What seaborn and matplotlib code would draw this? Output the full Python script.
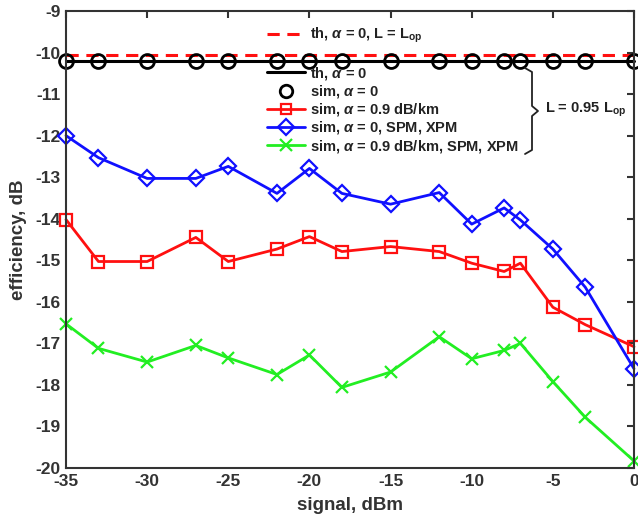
import numpy as np
import pandas as pd
import seaborn as sns
import matplotlib
matplotlib.use("Agg")
import matplotlib.pyplot as plt
from matplotlib.lines import Line2D

# ---- data ----
signal = [-35, -33, -30, -27, -25, -22, -20, -18, -15, -12, -10, -8, -7, -5, -3, 0]
th_Lop_value = -10.05          # th, alpha = 0, L = L_op
th_value = -10.2               # th, alpha = 0 (L = 0.95 L_op)
sim_a0 = [-10.2] * 16
sim_a09 = [-14.02, -15.03, -15.03, -14.45, -15.03, -14.73, -14.43, -14.79,
           -14.67, -14.79, -15.07, -15.27, -15.07, -16.13, -16.55, -17.08]
sim_a0_nl = [-12.0, -12.53, -13.03, -13.03, -12.74, -13.39, -12.79, -13.39,
             -13.65, -13.37, -14.13, -13.74, -14.03, -14.73, -15.65, -17.61]
sim_a09_nl = [-16.53, -17.12, -17.45, -17.05, -17.35, -17.75, -17.28, -18.06,
              -17.69, -16.84, -17.37, -17.17, -17.0, -17.92, -18.78, -19.83]
xticks = [-35, -30, -25, -20, -15, -10, -5, 0]
yticks = list(range(-20, -8))

lbl_th_lop = r"th, $\alpha$ = 0, L = L$_{\mathrm{op}}$"
lbl_th = r"th, $\alpha$ = 0"
lbl_sim0 = r"sim, $\alpha$ = 0"
lbl_sim09 = r"sim, $\alpha$ = 0.9 dB/km"
lbl_sim0nl = r"sim, $\alpha$ = 0, SPM, XPM"
lbl_sim09nl = r"sim, $\alpha$ = 0.9 dB/km, SPM, XPM"
brace_label = r"L = 0.95 L$_{\mathrm{op}}$"

RED, BLUE, GREEN = "#ff1010", "#1010ff", "#22ee22"

sns.set_theme(style="white")
plt.rcParams["font.family"] = ["Liberation Sans", "DejaVu Sans"]
plt.rcParams["font.weight"] = "bold"
plt.rcParams["axes.unicode_minus"] = False
plt.rcParams["mathtext.fontset"] = "custom"
plt.rcParams["mathtext.rm"] = "Liberation Sans:bold"
plt.rcParams["mathtext.it"] = "Liberation Sans:italic:bold"
plt.rcParams["mathtext.bf"] = "Liberation Sans:bold"

W, H = 638, 531
fig = plt.figure(figsize=(W / 100, H / 100), dpi=100)
ax = fig.add_axes([66 / W, 1 - 468 / H, (634 - 66) / W, (468 - 11) / H])

ends = [signal[0], signal[-1]]
sns.lineplot(x=ends, y=[th_Lop_value] * 2, ax=ax, color=RED, lw=2.2,
             linestyle=(0, (4, 2.5)))
sns.lineplot(x=ends, y=[th_value] * 2, ax=ax, color="black", lw=2.2)
ax.plot(signal, sim_a0, linestyle="none", marker="o", ms=10, mfc="none",
        mec="black", mew=2)
sns.lineplot(x=signal, y=sim_a09, ax=ax, color=RED, lw=2, marker="s",
             markersize=8, markerfacecolor="none", markeredgecolor=RED,
             markeredgewidth=1.6)
sns.lineplot(x=signal, y=sim_a0_nl, ax=ax, color=BLUE, lw=2, marker="D",
             markersize=8.5, markerfacecolor="none", markeredgecolor=BLUE,
             markeredgewidth=1.6)
sns.lineplot(x=signal, y=sim_a09_nl, ax=ax, color=GREEN, lw=2, marker="x",
             markersize=9, markeredgecolor=GREEN, markeredgewidth=1.6)
for ln in ax.get_lines():
    ln.set_clip_on(False)

ax.set_xlim(-35, 0)
ax.set_ylim(-20, -9)
ax.set_xticks(xticks)
ax.set_yticks(yticks)
ax.tick_params(direction="in", length=5, width=1.5, top=True, right=True,
               labelsize=12.5, colors="#333333", labelcolor="#333333", pad=4)
for lab in ax.get_xticklabels() + ax.get_yticklabels():
    lab.set_fontweight("bold")
for s in ax.spines.values():
    s.set_color("#333333")
    s.set_linewidth(1.5)
ax.set_xlabel("signal, dBm", fontsize=13.5, fontweight="bold", color="#333333", labelpad=6)
ax.set_ylabel("efficiency, dB", fontsize=13.5, fontweight="bold", color="#333333", labelpad=6)

# legend 1
h1 = [Line2D([], [], color=RED, lw=2.2, linestyle=(0, (4, 2.5)))]
leg1 = fig.legend(h1, [lbl_th_lop], loc="upper left",
                  bbox_to_anchor=(267 / W, 1 - 26 / H), frameon=False,
                  fontsize=10.5, handlelength=2.6, handletextpad=0.35,
                  borderpad=0, borderaxespad=0)
# legend 2
h2 = [Line2D([], [], color="black", lw=2.2),
      Line2D([], [], linestyle="none", marker="o", ms=9, mfc="none", mec="black", mew=2),
      Line2D([], [], color=RED, lw=2, marker="s", ms=7.5, mfc="none", mec=RED, mew=1.6),
      Line2D([], [], color=BLUE, lw=2, marker="D", ms=8, mfc="none", mec=BLUE, mew=1.6),
      Line2D([], [], color=GREEN, lw=2, marker="x", ms=8, mec=GREEN, mew=1.6)]
leg2 = fig.legend(h2, [lbl_th, lbl_sim0, lbl_sim09, lbl_sim0nl, lbl_sim09nl],
                  loc="upper left", bbox_to_anchor=(267 / W, 1 - 65 / H),
                  frameon=False, fontsize=10.5, handlelength=2.6,
                  handletextpad=0.35, labelspacing=0.08, borderpad=0,
                  borderaxespad=0)
for lg in (leg1, leg2):
    for t in lg.get_texts():
        t.set_fontweight("bold")
        t.set_color("#222222")

# brace
def fp(x, y):
    return (x / W, 1 - y / H)
bx = [525, 532, 532, 538, 532, 532, 525]
by = [68, 72, 106, 111, 116, 150, 154]
pts = [fp(a, b) for a, b in zip(bx, by)]
fig.add_artist(Line2D([p[0] for p in pts], [p[1] for p in pts],
                      transform=fig.transFigure, color="#222222", lw=1.3))
fig.text(545 / W, 1 - 110 / H, brace_label, fontsize=10.5, fontweight="bold",
         color="#222222", va="center", ha="left")

fig.savefig("out.png", dpi=100)
